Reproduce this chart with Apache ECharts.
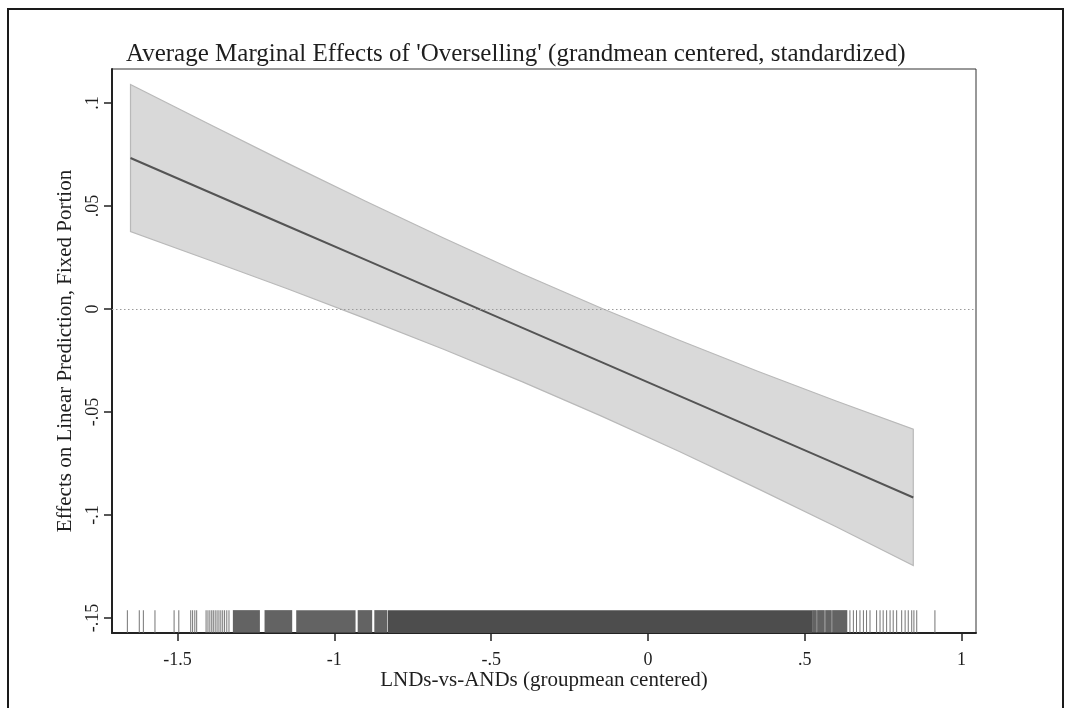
<!DOCTYPE html>
<html>
<head>
<meta charset="utf-8">
<script src="https://cdn.jsdelivr.net/npm/echarts@6.0.0/dist/echarts.min.js"></script>
<style>
  html, body { margin: 0; padding: 0; background: #fff; }
  #main { width: 1068px; height: 708px; }
</style>
</head>
<body>
<div id="main"></div>
<script>
// values
const xPoints = [-1.65, -1.4, -1.15, -0.9, -0.65, -0.4, -0.15, 0.1, 0.35, 0.6, 0.846];
const effect = [0.0733, 0.0568, 0.0403, 0.0238, 0.0073, -0.0092, -0.0257, -0.0422, -0.0587, -0.0752, -0.0915];
const ciUpper = [0.109, 0.0898, 0.0708, 0.0523, 0.0343, 0.0170, 0.0005, -0.0152, -0.0302, -0.0447, -0.0583];
const ciLower = [0.0376, 0.0238, 0.0098, -0.0047, -0.0197, -0.0354, -0.0519, -0.0692, -0.0872, -0.1057, -0.1245];

// rug of observed x values: single spikes, striped clusters and the solid block
const rugTicks = [-1.660, -1.622, -1.609, -1.572, -1.511, -1.496, -1.458, -1.452, -1.445, -1.439,
  -1.409, -1.403, -1.397, -1.391, -1.386, -1.380, -1.374, -1.368, -1.362, -1.356, -1.350, -1.343, -1.336,
  0.538, 0.564, 0.586,
  0.644, 0.655, 0.665, 0.676, 0.687, 0.697, 0.708, 0.729, 0.740, 0.750, 0.761, 0.772,
  0.782, 0.793, 0.809, 0.820, 0.830, 0.841, 0.848, 0.857, 0.915];
const rugStripes = [[-1.322, -1.239], [-1.221, -1.136], [-1.120, -0.934],
  [-0.924, -0.881], [-0.871, -0.833], [0.525, 0.535], [0.541, 0.561], [0.567, 0.583], [0.589, 0.634]];
const rugDense = [[-0.828, 0.522]];

const xTicks = [-1.5, -1, -0.5, 0, 0.5, 1];
const yTicks = [-0.15, -0.1, -0.05, 0, 0.05, 0.1];

const xMin = -1.709, xMax = 1.046;
const yMin = -0.1573, yMax = 0.1165;
const rugTop = -0.1462;

const serif = '"Liberation Serif", "Times New Roman", serif';
const stataNum = v => {
  if (Math.abs(v) < 1e-9) return '0';
  return String(+v.toFixed(3)).replace('0.', '.');
};

const myChart = echarts.init(document.getElementById('main'));

function rugItem(color, opacity) {
  return function (params, api) {
    const p0 = api.coord([api.value(0), rugTop]);
    const p1 = api.coord([api.value(1), yMin]);
    return {
      type: 'rect',
      shape: { x: p0[0] - 0.5, y: p0[1], width: Math.max(p1[0] - p0[0], 0) + 1, height: p1[1] - p0[1] },
      style: { fill: color, opacity: opacity }
    };
  };
}

const option = {
  backgroundColor: '#fff',
  animation: false,
  title: {
    text: "Average Marginal Effects of 'Overselling' (grandmean centered, standardized)",
    left: 121,
    top: 37,
    textStyle: { fontFamily: serif, fontSize: 25, fontWeight: 'normal', color: '#1e1e1e' }
  },
  graphic: [{
    type: 'rect',
    shape: { x: 8, y: 9, width: 1055, height: 740 },
    style: { fill: 'none', stroke: '#1a1a1a', lineWidth: 2 },
    z: 100
  }],
  grid: {
    left: 112, right: 92, top: 69, bottom: 75,
    show: true, borderColor: '#333', borderWidth: 1,
    outerBoundsMode: 'none'
  },
  xAxis: {
    type: 'value',
    min: xMin, max: xMax,
    name: 'LNDs-vs-ANDs (groupmean centered)',
    nameLocation: 'middle',
    nameGap: 37,
    nameMoveOverlap: false,
    nameTextStyle: { fontFamily: serif, fontSize: 21, color: '#1e1e1e' },
    axisLine: { show: true, onZero: false, lineStyle: { color: '#222', width: 2 } },
    axisTick: { show: true, inside: false, length: 8, customValues: xTicks, lineStyle: { color: '#222', width: 1.5 } },
    axisLabel: {
      customValues: xTicks, margin: 18,
      fontFamily: serif, fontSize: 18, color: '#1e1e1e',
      formatter: stataNum
    },
    splitLine: { show: false }
  },
  yAxis: {
    type: 'value',
    min: yMin, max: yMax,
    name: 'Effects on Linear Prediction, Fixed Portion',
    nameLocation: 'middle',
    nameGap: 27,
    nameTextStyle: { fontFamily: serif, fontSize: 21, color: '#1e1e1e' },
    axisLine: { show: true, onZero: false, lineStyle: { color: '#222', width: 2 } },
    axisTick: { show: true, inside: false, length: 8, customValues: yTicks, lineStyle: { color: '#222', width: 1.5 } },
    axisLabel: {
      customValues: yTicks, margin: 10, rotate: 90,
      fontFamily: serif, fontSize: 18, color: '#1e1e1e',
      formatter: stataNum
    },
    splitLine: { show: false }
  },
  series: [
    {
      name: 'CI',
      type: 'custom',
      data: xPoints.map((x, i) => [x, ciLower[i], ciUpper[i]]),
      encode: { x: 0, y: [1, 2] },
      renderItem: function (params, api) {
        if (params.dataIndex !== 0) return;
        const up = xPoints.map((x, i) => api.coord([x, ciUpper[i]]));
        const lo = xPoints.map((x, i) => api.coord([x, ciLower[i]])).reverse();
        return {
          type: 'polygon',
          shape: { points: up.concat(lo) },
          style: { fill: '#d9d9d9', stroke: '#b9b9b9', lineWidth: 1.2 }
        };
      },
      z: 1
    },
    {
      name: 'Effect',
      type: 'line',
      data: xPoints.map((x, i) => [x, effect[i]]),
      symbol: 'none',
      lineStyle: { color: '#545454', width: 2 },
      markLine: {
        silent: true,
        symbol: 'none',
        label: { show: false },
        lineStyle: { color: '#9a9a9a', type: [1.5, 2.5], width: 1 },
        data: [{ yAxis: 0 }]
      },
      z: 3
    },
    {
      name: 'rug stripes',
      type: 'custom',
      data: rugStripes,
      encode: { x: [0, 1] },
      renderItem: rugItem('#4d4d4d', 0.88),
      z: 2
    },
    {
      name: 'rug dense',
      type: 'custom',
      data: rugDense,
      encode: { x: [0, 1] },
      renderItem: rugItem('#4d4d4d', 1),
      z: 2
    },
    {
      name: 'rug ticks',
      type: 'custom',
      data: rugTicks.map(x => [x, x]),
      encode: { x: [0, 1] },
      renderItem: rugItem('#666', 0.9),
      z: 2
    }
  ]
};

myChart.setOption(option, true);
</script>
</body>
</html>
